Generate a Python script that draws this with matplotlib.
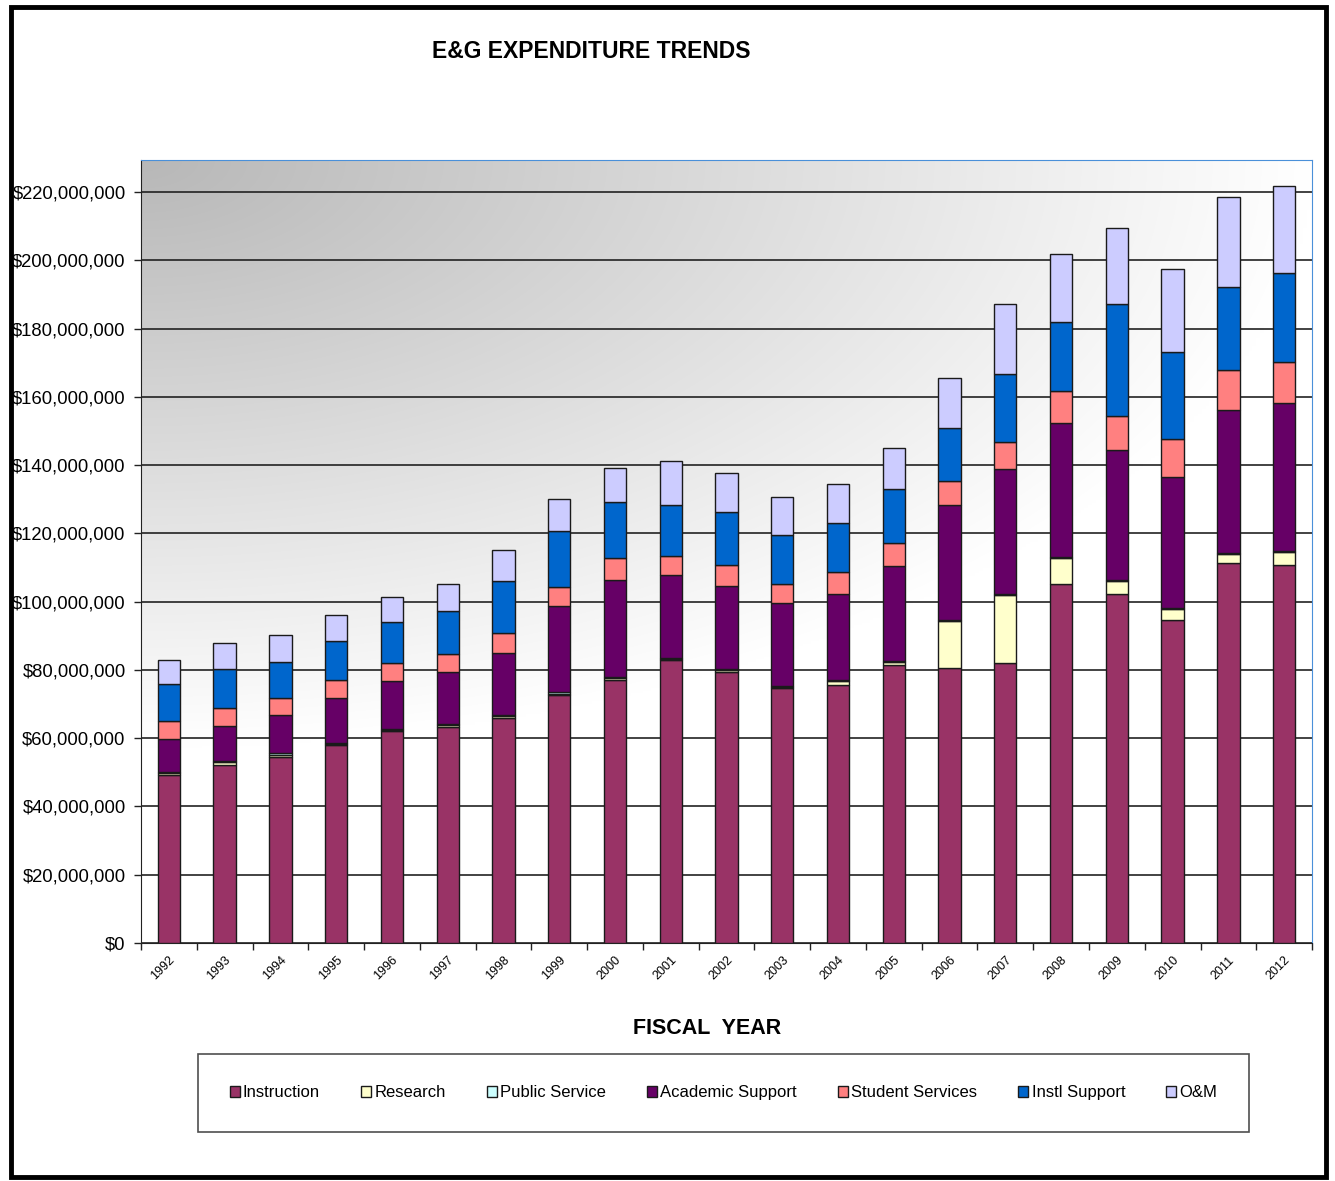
import numpy as np
import matplotlib.pyplot as plt
from matplotlib.patches import Rectangle
from matplotlib.ticker import FuncFormatter

plt.rcParams['font.family'] = ['Liberation Sans', 'DejaVu Sans']

# values in $ millions
years = [str(y) for y in range(1992, 2013)]
instruction = [49.2, 52.3, 54.6, 58.1, 62.1, 63.2, 65.9, 72.6, 77.0, 82.9, 79.4,
               74.8, 75.7, 81.6, 80.6, 82.0, 105.3, 102.2, 94.6, 111.2, 110.7]
research = [0.6, 0.6, 0.6, 0.3, 0.4, 0.6, 0.5, 0.5, 0.6, 0.3, 0.6,
            0.3, 1.0, 0.7, 13.7, 19.9, 7.4, 3.9, 3.3, 2.8, 3.9]
public_service = [0.4, 0.4, 0.4, 0.3, 0.3, 0.4, 0.3, 0.3, 0.4, 0.2, 0.4,
                  0.2, 0.5, 0.4, 0.3, 0.3, 0.3, 0.2, 0.3, 0.3, 0.3]
academic_support = [9.5, 10.3, 11.1, 13.0, 13.9, 15.2, 18.3, 25.3, 28.3, 24.4, 24.3,
                    24.3, 25.0, 27.7, 33.8, 36.6, 39.3, 38.1, 38.2, 42.0, 43.3]
student_services = [5.3, 5.3, 5.0, 5.3, 5.4, 5.4, 5.8, 5.7, 6.4, 5.6, 6.0,
                    5.7, 6.4, 6.7, 7.0, 7.9, 9.3, 10.0, 11.3, 11.6, 11.9]
instl_support = [10.9, 11.3, 10.7, 11.5, 11.9, 12.5, 15.2, 16.3, 16.5, 14.9, 15.6,
                 14.1, 14.4, 15.8, 15.6, 19.9, 20.2, 32.8, 25.5, 24.3, 26.1]
om = [7.0, 7.8, 7.8, 7.6, 7.4, 7.9, 9.1, 9.5, 10.0, 13.0, 11.5,
      11.2, 11.6, 12.0, 14.6, 20.6, 20.2, 22.4, 24.3, 26.4, 25.6]

series = [
    ('Instruction', instruction, '#993366'),
    ('Research', research, '#FFFFCC'),
    ('Public Service', public_service, '#CCFFFF'),
    ('Academic Support', academic_support, '#660066'),
    ('Student Services', student_services, '#FF8080'),
    ('Instl Support', instl_support, '#0066CC'),
    ('O&M', om, '#CCCCFF'),
]

fig = plt.figure(figsize=(13.35, 11.81), dpi=100)
ax = fig.add_axes([0.1056, 0.2015, 0.8772, 0.663])

# gradient background (dark grey top-left -> white)
gx, gy = np.meshgrid(np.linspace(0, 1, 300), np.linspace(0, 1, 300))
d = np.clip(np.sqrt(gx ** 2 + (gy / 0.75) ** 2), 0, 1)
g = 0.72 + 0.28 * d
ax.imshow(np.dstack([g, g, g]), extent=[-0.5, 20.5, 0, 229.4e6], origin='upper',
          aspect='auto', zorder=0, interpolation='bilinear')

x = np.arange(len(years))
bottom = np.zeros(len(years))
for name, vals, col in series:
    v = np.array(vals) * 1e6
    ax.bar(x, v, 0.4, bottom=bottom, color=col, edgecolor='#1a1a1a',
           linewidth=1.0, label=name, zorder=3)
    bottom += v

ax.set_xlim(-0.5, 20.5)
ax.set_ylim(0, 229.4e6)
ax.set_yticks(np.arange(0, 221e6, 20e6))
ax.yaxis.set_major_formatter(FuncFormatter(lambda v, p: '${:,.0f}'.format(v)))
ax.yaxis.grid(True, color='#222222', linewidth=1.2, zorder=1)
ax.set_axisbelow(True)

ax.set_xticks(x)
ax.set_xticklabels(years, rotation=45, ha='right', rotation_mode='anchor', fontsize=9)
ax.set_xticks(np.arange(-0.5, 21, 1), minor=True)
ax.tick_params(axis='x', which='major', length=0, pad=8)
ax.tick_params(axis='x', which='minor', length=5, width=1, color='#222222')
ax.tick_params(axis='y', length=5, width=1, labelsize=13.3, pad=6, color='#222222')

ax.spines['left'].set_color('#222222')
ax.spines['bottom'].set_color('#222222')
ax.spines['top'].set_color('#4a90d9')
ax.spines['right'].set_color('#4a90d9')

fig.text(0.443, 0.956, 'E&G EXPENDITURE TRENDS', fontsize=16.5, fontweight='bold',
         ha='center', va='center')
fig.text(0.5296, 0.1295, 'FISCAL  YEAR', fontsize=15.5, fontweight='bold',
         ha='center', va='center')

leg = fig.legend(loc='lower left', bbox_to_anchor=(0.1483, 0.0415, 0.7873, 0.067),
                 mode='expand', ncol=7, fontsize=12, frameon=True, fancybox=False,
                 edgecolor='#222222', borderpad=1.9, borderaxespad=0,
                 handlelength=0.6, handleheight=0.6, handletextpad=0.2,
                 columnspacing=1.5)
leg.get_frame().set_linewidth(1.2)

fig.patches.append(Rectangle((0.008, 0.003), 0.985, 0.991, transform=fig.transFigure,
                             fill=False, edgecolor='black', linewidth=3.5))

fig.savefig('out.png', dpi=100)
